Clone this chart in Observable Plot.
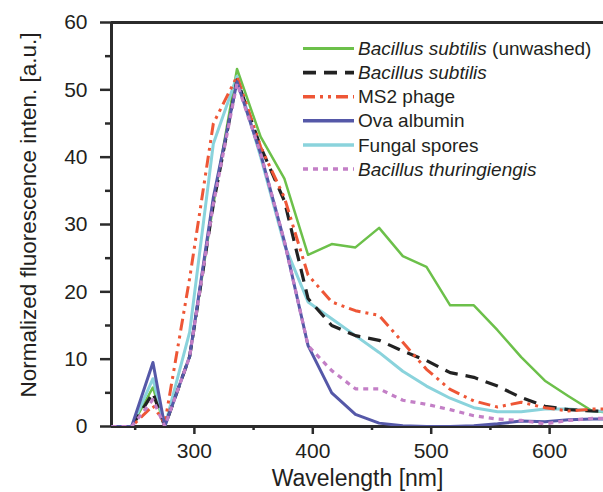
<!DOCTYPE html>
<html>
<head>
<meta charset="utf-8">
<script src="https://cdn.jsdelivr.net/npm/d3@7"></script>
<script src="https://cdn.jsdelivr.net/npm/@observablehq/plot@0.6"></script>
<style>
  html, body { margin: 0; padding: 0; background: #fff; }
  #wrap { position: relative; width: 603px; height: 492px; font-family: "Liberation Sans", Arial, sans-serif; }
  #legend { position: absolute; left: 0; top: 0; pointer-events: none; }
</style>
</head>
<body>
<div id="wrap"></div>
<script>
// ---- data ----
const wavelengths = [230, 247, 265, 275, 296, 316, 336, 356, 376, 396, 416, 436, 456, 476, 496, 516, 536, 556, 576, 596, 616, 636, 656];
const seriesNames = [
  "Bacillus subtilis (unwashed)",
  "Bacillus subtilis",
  "MS2 phage",
  "Ova albumin",
  "Fungal spores",
  "Bacillus thuringiengis"
];
const bsUnwashed = [0, 0, 5.8, 0, 10.4, 33, 53.1, 43, 36.8, 25.5, 27.1, 26.6, 29.5, 25.3, 23.7, 18, 18, 14.3, 10.3, 6.8, 4.5, 2.3, 2];
const bsWashed   = [0, 0, 5, 0, 10.4, 33, 51.5, 41.5, 33.5, 19, 15, 13.5, 12.8, 11.2, 9.8, 8, 7.3, 6, 4.3, 3, 2.5, 2.3, 2.2];
const ms2Phage   = [0, 0, 3.1, 0.5, 22, 45, 52, 41.5, 34, 22.5, 18.5, 17.2, 16.5, 12.5, 8.5, 5.5, 3.8, 2.9, 3.6, 2.8, 2.3, 2.6, 2.6];
const ovaAlbumin = [0, 0, 9.5, 0, 10.4, 34, 51.2, 40.5, 27.5, 12, 5, 1.8, 0.5, 0.1, 0, 0, 0.1, 0.4, 0.8, 0.7, 1, 1.1, 1.1];
const fungal     = [0, 0, 7.1, 0, 14, 42, 52, 40, 27, 18.5, 16, 13.5, 11, 8.2, 6, 4.2, 2.8, 2.2, 2.2, 2.6, 2.6, 2.3, 2.2];
const bThuring   = [0, 0, 4, 0, 10.4, 33, 51, 40.5, 27.5, 12, 8.3, 5.6, 5.6, 3.9, 3.3, 2.5, 1.6, 1.1, 0.9, 0.4, 0.9, 1.2, 1.2];
const seriesValues = [bsUnwashed, bsWashed, ms2Phage, ovaAlbumin, fungal, bThuring];
const yTicks = [0, 10, 20, 30, 40, 50, 60];
const yMinorTicks = [5, 15, 25, 35, 45, 55];
const xTicks = [300, 400, 500, 600];
const xMinorTicks = [250, 350, 450, 550];
const xLabel = "Wavelength [nm]";
const yLabel = "Normalized fluorescence inten. [a.u.]";

// ---- styles ----
const seriesColors = ["#6cc04a", "#222222", "#ee5636", "#5558a8", "#8ad3dc", "#c37fc6"];
const seriesDash = [null, "13,8", "12,5,3,5,3,5", null, null, "5,5"];
const seriesWidth = [2.5, 3.2, 3, 3, 3, 3.2];
const drawOrder = [0, 4, 1, 2, 3, 5];
const axisColor = "#2b2b2b";
const textColor = "#231f20";

// ---- table ----
const rows = [];
seriesNames.forEach((name, s) => {
  wavelengths.forEach((wl, i) => rows.push({series: name, wl, value: seriesValues[s][i]}));
});

const lineMarks = drawOrder.map(s => Plot.line(rows.filter(r => r.series === seriesNames[s]), {
  x: "wl", y: "value",
  stroke: seriesColors[s],
  strokeWidth: seriesWidth[s],
  strokeDasharray: seriesDash[s] || undefined,
  strokeLinecap: seriesDash[s] ? "butt" : "round",
  strokeLinejoin: "round",
  clip: true
}));

const chart = Plot.plot({
  width: 603,
  height: 492,
  marginLeft: 111,
  marginRight: 0,
  marginTop: 22,
  marginBottom: 66,
  style: {fontFamily: "'Liberation Sans', Arial, sans-serif", color: textColor, background: "white", overflow: "visible"},
  x: {domain: [230, 645.5]},
  y: {domain: [0, 60]},
  marks: [
    Plot.axisY(yTicks, {tickSize: 11, tickPadding: 13, fontSize: 21, stroke: axisColor, strokeWidth: 2.5, fill: textColor, label: null}),
    Plot.axisY(yMinorTicks, {tickSize: 6, text: null, stroke: axisColor, strokeWidth: 2.5, label: null}),
    Plot.axisX(xTicks, {tickSize: 8, tickPadding: 9, fontSize: 21, stroke: axisColor, strokeWidth: 2.5, fill: textColor, label: null}),
    Plot.axisX(xMinorTicks, {tickSize: 4, text: null, stroke: axisColor, strokeWidth: 2.5, label: null}),
    Plot.ruleY([60], {stroke: axisColor, strokeWidth: 3}),
    Plot.ruleY([0], {stroke: axisColor, strokeWidth: 3}),
    Plot.ruleX([230], {stroke: axisColor, strokeWidth: 3}),
    ...lineMarks,
    Plot.text([yLabel], {frameAnchor: "left", textAnchor: "middle", lineAnchor: "middle", rotate: -90, dx: -82.5, dy: -9.5, fontSize: 22.5, fill: textColor}),
    Plot.text([xLabel], {frameAnchor: "bottom", textAnchor: "middle", lineAnchor: "middle", dy: 52.6, fontSize: 23, fill: textColor})
  ]
});
document.getElementById("wrap").appendChild(chart);

// ---- legend overlay ----
const legend = d3.select("#wrap").append("svg")
  .attr("id", "legend")
  .attr("width", 603).attr("height", 492)
  .style("font-family", "'Liberation Sans', Arial, sans-serif");
const rowG = legend.selectAll("g").data(seriesNames).join("g")
  .attr("transform", (d, i) => `translate(303, ${48.5 + i * 24.1})`);
rowG.append("line")
  .attr("x1", 0).attr("x2", 51).attr("y1", 0).attr("y2", 0)
  .attr("stroke", (d, i) => seriesColors[i])
  .attr("stroke-width", (d, i) => seriesWidth[i] + 0.5)
  .attr("stroke-dasharray", (d, i) => seriesDash[i])
  .attr("stroke-linecap", "butt");
const txt = rowG.append("text")
  .attr("x", 55).attr("y", 0).attr("dy", "0.35em")
  .attr("font-size", 19).attr("fill", textColor);
txt.each(function(d) {
  const t = d3.select(this);
  const m = d.match(/^(.*?)(\s\(.*\))?$/);
  const main = m[1], suffix = m[2];
  t.append("tspan").text(main).attr("font-style", d.startsWith("Bacillus") ? "italic" : "normal");
  if (suffix) t.append("tspan").text(suffix);
});
</script>
</body>
</html>
